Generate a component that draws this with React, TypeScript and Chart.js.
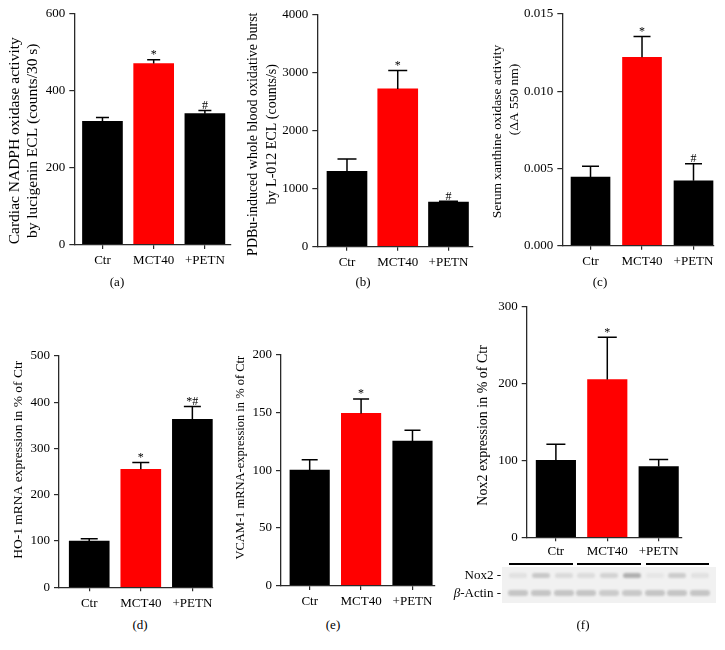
import React, { useEffect, useRef } from 'react';
import { Chart, registerables } from 'chart.js';

Chart.register(...registerables);

// ---------- data ----------
const categories = ['Ctr', 'MCT40', '+PETN'];

const nadphMeans = [320, 470, 340];
const nadphErrors = [10, 10, 8];
const nadphMarks = ['', '*', '#'];
const nadphTicks = [0, 200, 400, 600];

const burstMeans = [1300, 2720, 770];
const burstErrors = [210, 320, 15];
const burstMarks = ['', '*', '#'];
const burstTicks = [0, 1000, 2000, 3000, 4000];

const xoMeans = [0.00445, 0.0122, 0.0042];
const xoErrors = [0.0007, 0.00135, 0.0011];
const xoMarks = ['', '*', '#'];
const xoTicks = [0, 0.005, 0.01, 0.015];

const ho1Means = [100, 255, 363];
const ho1Errors = [5, 15, 28];
const ho1Marks = ['', '*', '*#'];
const ho1Ticks = [0, 100, 200, 300, 400, 500];

const vcamMeans = [100, 149, 125];
const vcamErrors = [9, 12.5, 9.5];
const vcamMarks = ['', '*', ''];
const vcamTicks = [0, 50, 100, 150, 200];

const nox2Means = [100, 205, 92];
const nox2Errors = [21, 55, 9];
const nox2Marks = ['', '*', ''];
const nox2Ticks = [0, 100, 200, 300];

// western blot band intensities (darkness), 9 lanes: 3 per group
const nox2BandIntensity = [0.08, 0.2, 0.11, 0.1, 0.15, 0.32, 0.05, 0.18, 0.08];
const actinBandIntensity = [0.22, 0.22, 0.22, 0.22, 0.19, 0.2, 0.22, 0.22, 0.22];

// ---------- styles ----------
const FONT = '"Liberation Serif", "Times New Roman", serif';
const barColors = ['#000000', '#ff0000', '#000000'];
const AXIS = '#2a2a2a';

type Box = { left: number; top: number; width: number; height: number };
type Plot = { l: number; t: number; r: number; b: number };
type Spec = {
  means: number[];
  errors: number[];
  marks: string[];
  ticks: number[];
  fmt: (v: number) => string;
  title: string[];
  titleShift: number[];
  titleSize: number;
  titleLH: number;
  titleX: number;
  box: Box;
  plot: Plot;
  xMin: number;
  xMax: number;
  bar: number;
  cap: number;
  xPad: number;
  caption: { text: string; x: number; y: number };
};

const intFmt = (v: number) => String(Math.round(v));

const panels: Spec[] = [
  {
    means: nadphMeans, errors: nadphErrors, marks: nadphMarks, ticks: nadphTicks, fmt: intFmt,
    title: ['Cardiac NADPH oxidase activity', 'by lucigenin ECL (counts/30 s)'], titleShift: [11, 11],
    titleSize: 15.5, titleLH: 18, titleX: 15,
    box: { left: 0, top: 0, width: 240, height: 275 }, plot: { l: 74.3, t: 13.3, r: 231, b: 245 },
    xMin: 0.45, xMax: 3.51, bar: 40, cap: 13, xPad: 4, caption: { text: '(a)', x: 117, y: 282 },
  },
  {
    means: burstMeans, errors: burstErrors, marks: burstMarks, ticks: burstTicks, fmt: intFmt,
    title: ['PDBu-induced whole blood oxidative burst', 'by L-012 ECL (counts/s)'], titleShift: [3, 3],
    titleSize: 14, titleLH: 19, titleX: 253,
    box: { left: 240, top: 0, width: 240, height: 275 }, plot: { l: 317.3, t: 14.7, r: 473, b: 246.7 },
    xMin: 0.415, xMax: 3.483, bar: 40, cap: 19, xPad: 4, caption: { text: '(b)', x: 363, y: 282 },
  },
  {
    means: xoMeans, errors: xoErrors, marks: xoMarks, ticks: xoTicks, fmt: (v: number) => v.toFixed(3),
    title: ['Serum xanthine oxidase activity', '(ΔA 550 nm)'], titleShift: [2, -31],
    titleSize: 13.5, titleLH: 17, titleX: 497,
    box: { left: 485, top: 0, width: 240, height: 275 }, plot: { l: 562.3, t: 14, r: 714, b: 245.7 },
    xMin: 0.452, xMax: 3.398, bar: 39, cap: 17, xPad: 4, caption: { text: '(c)', x: 600, y: 282 },
  },
  {
    means: ho1Means, errors: ho1Errors, marks: ho1Marks, ticks: ho1Ticks, fmt: intFmt,
    title: ['HO-1 mRNA expression in % of Ctr'], titleShift: [-12],
    titleSize: 13.5, titleLH: 16, titleX: 18,
    box: { left: 0, top: 330, width: 225, height: 285 }, plot: { l: 59, t: 356, r: 213, b: 587.3 },
    xMin: 0.414, xMax: 3.4, bar: 40, cap: 17, xPad: 4, caption: { text: '(d)', x: 140, y: 625 },
  },
  {
    means: vcamMeans, errors: vcamErrors, marks: vcamMarks, ticks: vcamTicks, fmt: intFmt,
    title: ['VCAM-1 mRNA-expression in % of Ctr'], titleShift: [-12],
    titleSize: 12.5, titleLH: 15, titleX: 241,
    box: { left: 228, top: 330, width: 220, height: 285 }, plot: { l: 281, t: 354.3, r: 435, b: 586 },
    xMin: 0.442, xMax: 3.438, bar: 39.5, cap: 16, xPad: 4, caption: { text: '(e)', x: 333, y: 625 },
  },
  {
    means: nox2Means, errors: nox2Errors, marks: nox2Marks, ticks: nox2Ticks, fmt: intFmt,
    title: ['Nox2 expression in % of Ctr'], titleShift: [3],
    titleSize: 14, titleLH: 16.8, titleX: 483,
    box: { left: 470, top: 290, width: 250, height: 280 }, plot: { l: 526.7, t: 306.5, r: 681.7, b: 537.3 },
    xMin: 0.432, xMax: 3.448, bar: 39.5, cap: 19, xPad: 2.5, caption: { text: '(f)', x: 583, y: 625 },
  },
];

// shift a rotated, centred title line along the axis by padding with spaces
function shiftLine(text: string, shift: number, size: number): string {
  const space = 0.25 * size;
  const n = Math.round((2 * Math.abs(shift)) / space);
  if (n === 0) return text;
  const pad = ' '.repeat(n);
  return shift > 0 ? text + pad : pad + text;
}

function BarPanel({ spec }: { spec: Spec }) {
  const ref = useRef<HTMLCanvasElement>(null);
  const { box, plot } = spec;

  useEffect(() => {
    const canvas = ref.current;
    if (!canvas) return;
    const yWidth = plot.l - box.left;
    const padTop = plot.t - box.top;
    const padRight = box.left + box.width - plot.r;
    const xHeight = box.top + box.height - plot.b;
    const titlePad = spec.titleX - box.left - spec.titleLH / 2;
    const titleText = spec.title.map((t, i) => shiftLine(t, spec.titleShift[i] || 0, spec.titleSize));

    const errorPlugin = {
      id: 'errorBars',
      afterDatasetsDraw(chart: any) {
        const ctx = chart.ctx as CanvasRenderingContext2D;
        const meta = chart.getDatasetMeta(0);
        const yScale = chart.scales.y;
        ctx.save();
        ctx.strokeStyle = '#000';
        ctx.lineWidth = 1.5;
        meta.data.forEach((bar: any, i: number) => {
          const x = bar.x;
          const y0 = yScale.getPixelForValue(spec.means[i]);
          const y1 = yScale.getPixelForValue(spec.means[i] + spec.errors[i]);
          ctx.beginPath();
          ctx.moveTo(x, y0);
          ctx.lineTo(x, y1);
          ctx.moveTo(x - spec.cap / 2, y1);
          ctx.lineTo(x + spec.cap / 2, y1);
          ctx.stroke();
          const mark = spec.marks[i];
          if (mark) {
            ctx.font = `12px ${FONT}`;
            ctx.textAlign = 'center';
            ctx.textBaseline = 'alphabetic';
            ctx.fillStyle = '#000';
            ctx.fillText(mark, x, y1 - 1.5);
          }
        });
        ctx.restore();
      },
    };

    const chart = new Chart(canvas, {
      type: 'bar',
      data: {
        datasets: [
          {
            data: spec.means.map((v, i) => ({ x: i + 1, y: v })),
            backgroundColor: barColors,
            borderWidth: 0,
            barThickness: spec.bar,
          } as any,
        ],
      },
      options: {
        animation: false,
        responsive: false,
        maintainAspectRatio: false,
        devicePixelRatio: 1,
        events: [],
        layout: { padding: { top: padTop, right: padRight, left: 0, bottom: 0 } },
        plugins: { legend: { display: false }, tooltip: { enabled: false }, title: { display: false } },
        scales: {
          x: {
            type: 'linear',
            min: spec.xMin,
            max: spec.xMax,
            offset: false,
            afterBuildTicks: (s: any) => {
              s.ticks = categories.map((_, i) => ({ value: i + 1 }));
            },
            afterFit: (s: any) => {
              s.height = xHeight;
            },
            ticks: {
              callback: (v: any) => categories[Math.round(Number(v)) - 1] ?? '',
              font: { family: FONT, size: 13 },
              color: '#000',
              padding: spec.xPad,
              maxRotation: 0,
              autoSkip: false,
            },
            grid: {
              display: true,
              drawOnChartArea: false,
              drawTicks: true,
              tickLength: 4,
              color: AXIS,
              lineWidth: 1.2,
              offset: false,
            },
            border: { display: true, color: AXIS, width: 1.3, z: 1 },
          },
          y: {
            type: 'linear',
            min: spec.ticks[0],
            max: spec.ticks[spec.ticks.length - 1],
            afterBuildTicks: (s: any) => {
              s.ticks = spec.ticks.map((v) => ({ value: v }));
            },
            afterFit: (s: any) => {
              s.width = yWidth;
            },
            ticks: {
              callback: (v: any) => spec.fmt(Number(v)),
              font: { family: FONT, size: 13 },
              color: '#000',
              padding: 4,
            },
            grid: {
              display: true,
              drawOnChartArea: false,
              drawTicks: true,
              tickLength: 5,
              color: AXIS,
              lineWidth: 1.2,
            },
            border: { display: true, color: AXIS, width: 1.3, z: 1 },
            title: {
              display: true,
              text: titleText.length === 1 ? titleText[0] : titleText,
              font: { family: FONT, size: spec.titleSize, lineHeight: spec.titleLH / spec.titleSize },
              color: '#000',
              padding: { top: titlePad, bottom: 0 },
            },
          },
        },
      } as any,
      plugins: [errorPlugin],
    });
    return () => chart.destroy();
  }, [spec]);

  return (
    <canvas
      ref={ref}
      width={box.width}
      height={box.height}
      style={{ position: 'absolute', left: box.left, top: box.top, width: box.width, height: box.height }}
    />
  );
}

const textStyle: React.CSSProperties = {
  position: 'absolute',
  fontFamily: FONT,
  fontSize: 13,
  lineHeight: '16px',
  color: '#000',
  whiteSpace: 'nowrap',
};

// blot geometry
const LANE0 = 518;
const LANE_STEP = 22.75;
const laneX = (i: number) => LANE0 + i * LANE_STEP;

function Blot() {
  const groups = [0, 1, 2];
  return (
    <>
      {groups.map((g) => (
        <div
          key={'gl' + g}
          style={{
            position: 'absolute',
            left: laneX(g * 3) - 9,
            width: laneX(g * 3 + 2) - laneX(g * 3) + 18,
            top: 563,
            height: 2,
            background: '#000',
          }}
        />
      ))}
      <div style={{ position: 'absolute', left: 502, top: 567, width: 214, height: 36, background: '#f1f1f1' }} />
      {nox2BandIntensity.map((a, i) => (
        <div
          key={'n' + i}
          style={{
            position: 'absolute',
            left: laneX(i) - 9,
            width: 18,
            top: 572.5,
            height: 5,
            borderRadius: 3,
            background: `rgba(40,40,40,${a})`,
            filter: 'blur(0.8px)',
          }}
        />
      ))}
      {actinBandIntensity.map((a, i) => (
        <div
          key={'b' + i}
          style={{
            position: 'absolute',
            left: laneX(i) - 10,
            width: 20,
            top: 590,
            height: 6,
            borderRadius: 3,
            background: `rgba(40,40,40,${a})`,
            filter: 'blur(0.8px)',
          }}
        />
      ))}
      <div style={{ ...textStyle, right: 725 - 501, top: 567, textAlign: 'right' }}>Nox2 -</div>
      <div style={{ ...textStyle, right: 725 - 501, top: 585, textAlign: 'right' }}>
        <i>β</i>-Actin -
      </div>
    </>
  );
}

export default function App() {
  return (
    <div
      style={{
        position: 'fixed',
        left: 0,
        top: 0,
        width: 725,
        height: 650,
        background: '#ffffff',
        overflow: 'hidden',
      }}
    >
      {panels.map((p, i) => (
        <BarPanel key={i} spec={p} />
      ))}
      <Blot />
      {panels.map((p, i) => (
        <div
          key={'cap' + i}
          style={{ ...textStyle, left: p.caption.x, top: p.caption.y - 8, transform: 'translateX(-50%)' }}
        >
          {p.caption.text}
        </div>
      ))}
    </div>
  );
}
